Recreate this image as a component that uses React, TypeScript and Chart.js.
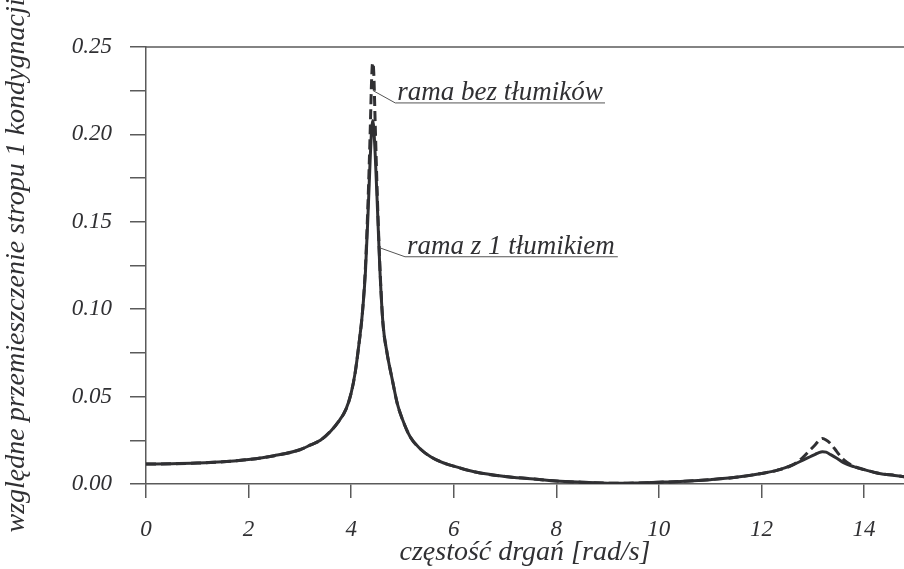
import React, { useEffect, useRef } from "react";
import { Chart, registerables } from "chart.js";

Chart.register(...registerables);

// frequency [rad/s]
const freq = [
  0, 0.5, 1, 1.5, 2, 2.5, 3,
  3.2, 3.4, 3.6, 3.75, 3.9,
  4.0, 4.08, 4.15, 4.22, 4.28,
  4.33, 4.37, 4.4, 4.42, 4.44,
  4.47, 4.51, 4.56, 4.62, 4.7,
  4.8, 4.9, 5.0, 5.15, 5.35,
  5.55, 5.75, 6.0, 6.4, 7.0,
  7.5, 8.0, 8.5, 9.0, 9.25,
  9.6, 10.0, 10.5, 11.0, 11.5,
  12.0, 12.3, 12.6, 12.8, 12.95,
  13.05, 13.12, 13.19, 13.26, 13.35,
  13.47, 13.6, 13.8, 14.0, 14.3,
  14.6, 14.78,
];

// rama z 1 tłumikiem (solid)
const withDamper = [
  0.0114, 0.0116, 0.012, 0.0127, 0.014, 0.0162, 0.0196,
  0.0222, 0.025, 0.0302, 0.0355, 0.0428,
  0.052, 0.064, 0.0795, 0.098, 0.122,
  0.155, 0.185, 0.203, 0.208, 0.204,
  0.188, 0.16, 0.123, 0.092, 0.075,
  0.06, 0.046, 0.037, 0.027, 0.02,
  0.0156, 0.0127, 0.0102, 0.007, 0.0043,
  0.003, 0.0017, 0.001, 0.0005, 0.0004,
  0.0006, 0.001, 0.0016, 0.0025, 0.0038,
  0.006, 0.0078, 0.0108, 0.0135, 0.0156,
  0.017, 0.018, 0.0185, 0.0182, 0.0168,
  0.0147, 0.0122, 0.0099, 0.0082, 0.006,
  0.0049, 0.0042,
];

// rama bez tłumików (dashed)
const noDamper = [
  0.0114, 0.0116, 0.012, 0.0127, 0.014, 0.0162, 0.0196,
  0.0222, 0.025, 0.0302, 0.0355, 0.0428,
  0.052, 0.064, 0.0795, 0.098, 0.125,
  0.162, 0.2, 0.232, 0.241, 0.236,
  0.205, 0.165, 0.125, 0.092, 0.075,
  0.06, 0.046, 0.037, 0.027, 0.02,
  0.0156, 0.0127, 0.0102, 0.007, 0.0043,
  0.003, 0.0017, 0.001, 0.0005, 0.0004,
  0.0006, 0.001, 0.0016, 0.0025, 0.0038,
  0.006, 0.0078, 0.0108, 0.015, 0.0195,
  0.0225, 0.0248, 0.026, 0.0252, 0.023,
  0.0185, 0.014, 0.0102, 0.0083, 0.006,
  0.0049, 0.0042,
];

const seriesNames = ["rama bez tłumików", "rama z 1 tłumikiem"];
const xTitle = "częstość drgań [rad/s]";
const yTitle = "względne przemieszczenie stropu 1 kondygnacji";

// annotation anchors: [curve x, curve y, underline start x, underline y, underline end x]
const labelBez = [4.43, 0.225, 4.86, 0.218, 8.95];
const labelZ = [4.57, 0.135, 5.05, 0.13, 9.2];

const FONT = "'Liberation Serif', 'Times New Roman', serif";
const INK = "#303033";
const AXIS = "#5a5a5a";

const decorPlugin = {
  id: "decor",
  afterDraw(chart: any) {
    const { ctx, chartArea, scales } = chart;
    const xs = scales.x;
    const ys = scales.y;
    ctx.save();
    // top frame line
    ctx.strokeStyle = AXIS;
    ctx.lineWidth = 1.5;
    ctx.beginPath();
    ctx.moveTo(chartArea.left, chartArea.top);
    ctx.lineTo(chartArea.right, chartArea.top);
    ctx.stroke();

    const drawLabel = (spec: number[], text: string) => {
      const ax = xs.getPixelForValue(spec[0]);
      const ay = ys.getPixelForValue(spec[1]);
      const ux = xs.getPixelForValue(spec[2]);
      const uy = ys.getPixelForValue(spec[3]);
      const ex = xs.getPixelForValue(spec[4]);
      ctx.strokeStyle = "#555";
      ctx.lineWidth = 1;
      ctx.beginPath();
      ctx.moveTo(ax, ay);
      ctx.lineTo(ux, uy);
      ctx.lineTo(ex, uy);
      ctx.stroke();
      ctx.fillStyle = INK;
      ctx.font = `italic 27px ${FONT}`;
      ctx.textAlign = "left";
      ctx.textBaseline = "alphabetic";
      ctx.fillText(text, ux + 2, uy - 3);
    };
    drawLabel(labelBez, seriesNames[0]);
    drawLabel(labelZ, seriesNames[1]);
    ctx.restore();
  },
};

export default function App() {
  const ref = useRef<HTMLCanvasElement>(null);
  useEffect(() => {
    if (!ref.current) return;
    const chart = new Chart(ref.current, {
      type: "line",
      data: {
        datasets: [
          {
            label: seriesNames[0],
            data: freq.map((f, i) => ({ x: f, y: noDamper[i] })),
            borderColor: INK,
            borderWidth: 3,
            borderDash: [10, 5],
            pointRadius: 0,
            cubicInterpolationMode: "monotone",
            fill: false,
          },
          {
            label: seriesNames[1],
            data: freq.map((f, i) => ({ x: f, y: withDamper[i] })),
            borderColor: INK,
            borderWidth: 3,
            pointRadius: 0,
            cubicInterpolationMode: "monotone",
            fill: false,
          },
        ],
      },
      options: {
        responsive: false,
        animation: false,
        layout: { padding: { top: 47, right: 0, left: 0, bottom: 0 } },
        plugins: { legend: { display: false }, tooltip: { enabled: false } },
        scales: {
          x: {
            type: "linear",
            min: 0,
            max: 14.78,
            afterFit: (s: any) => {
              s.height = 85;
            },
            ticks: {
              stepSize: 2,
              includeBounds: false,
              color: INK,
              padding: 18,
              font: { family: FONT, style: "italic", size: 23 },
            },
            grid: { drawOnChartArea: false, tickLength: 14, color: AXIS, lineWidth: 1.5 },
            border: { color: AXIS, width: 1.5 },
            title: {
              display: true,
              text: xTitle,
              color: INK,
              padding: { top: 0, bottom: 0 },
              font: { family: FONT, style: "italic", size: 28 },
            },
          },
          y: {
            type: "linear",
            min: 0,
            max: 0.25,
            afterFit: (s: any) => {
              s.width = 146;
            },
            ticks: {
              stepSize: 0.025,
              color: INK,
              padding: 18,
              font: { family: FONT, style: "italic", size: 23 },
              callback: (v: any) => {
                const k = Math.round(Number(v) * 1000);
                return k % 50 === 0 ? (k / 1000).toFixed(2) : "";
              },
            },
            grid: { drawOnChartArea: false, tickLength: 16, color: AXIS, lineWidth: 1.5 },
            border: { color: AXIS, width: 1.5 },
            title: {
              display: true,
              text: yTitle,
              color: INK,
              padding: { top: 0, bottom: 0 },
              font: { family: FONT, style: "italic", size: 28 },
            },
          },
        },
      },
      plugins: [decorPlugin],
    } as any);
    return () => chart.destroy();
  }, []);
  return (
    <div style={{ position: "absolute", left: 0, top: 0, width: 904, height: 569, background: "#fff" }}>
      <canvas ref={ref} width={904} height={569} style={{ width: 904, height: 569 }} />
    </div>
  );
}
